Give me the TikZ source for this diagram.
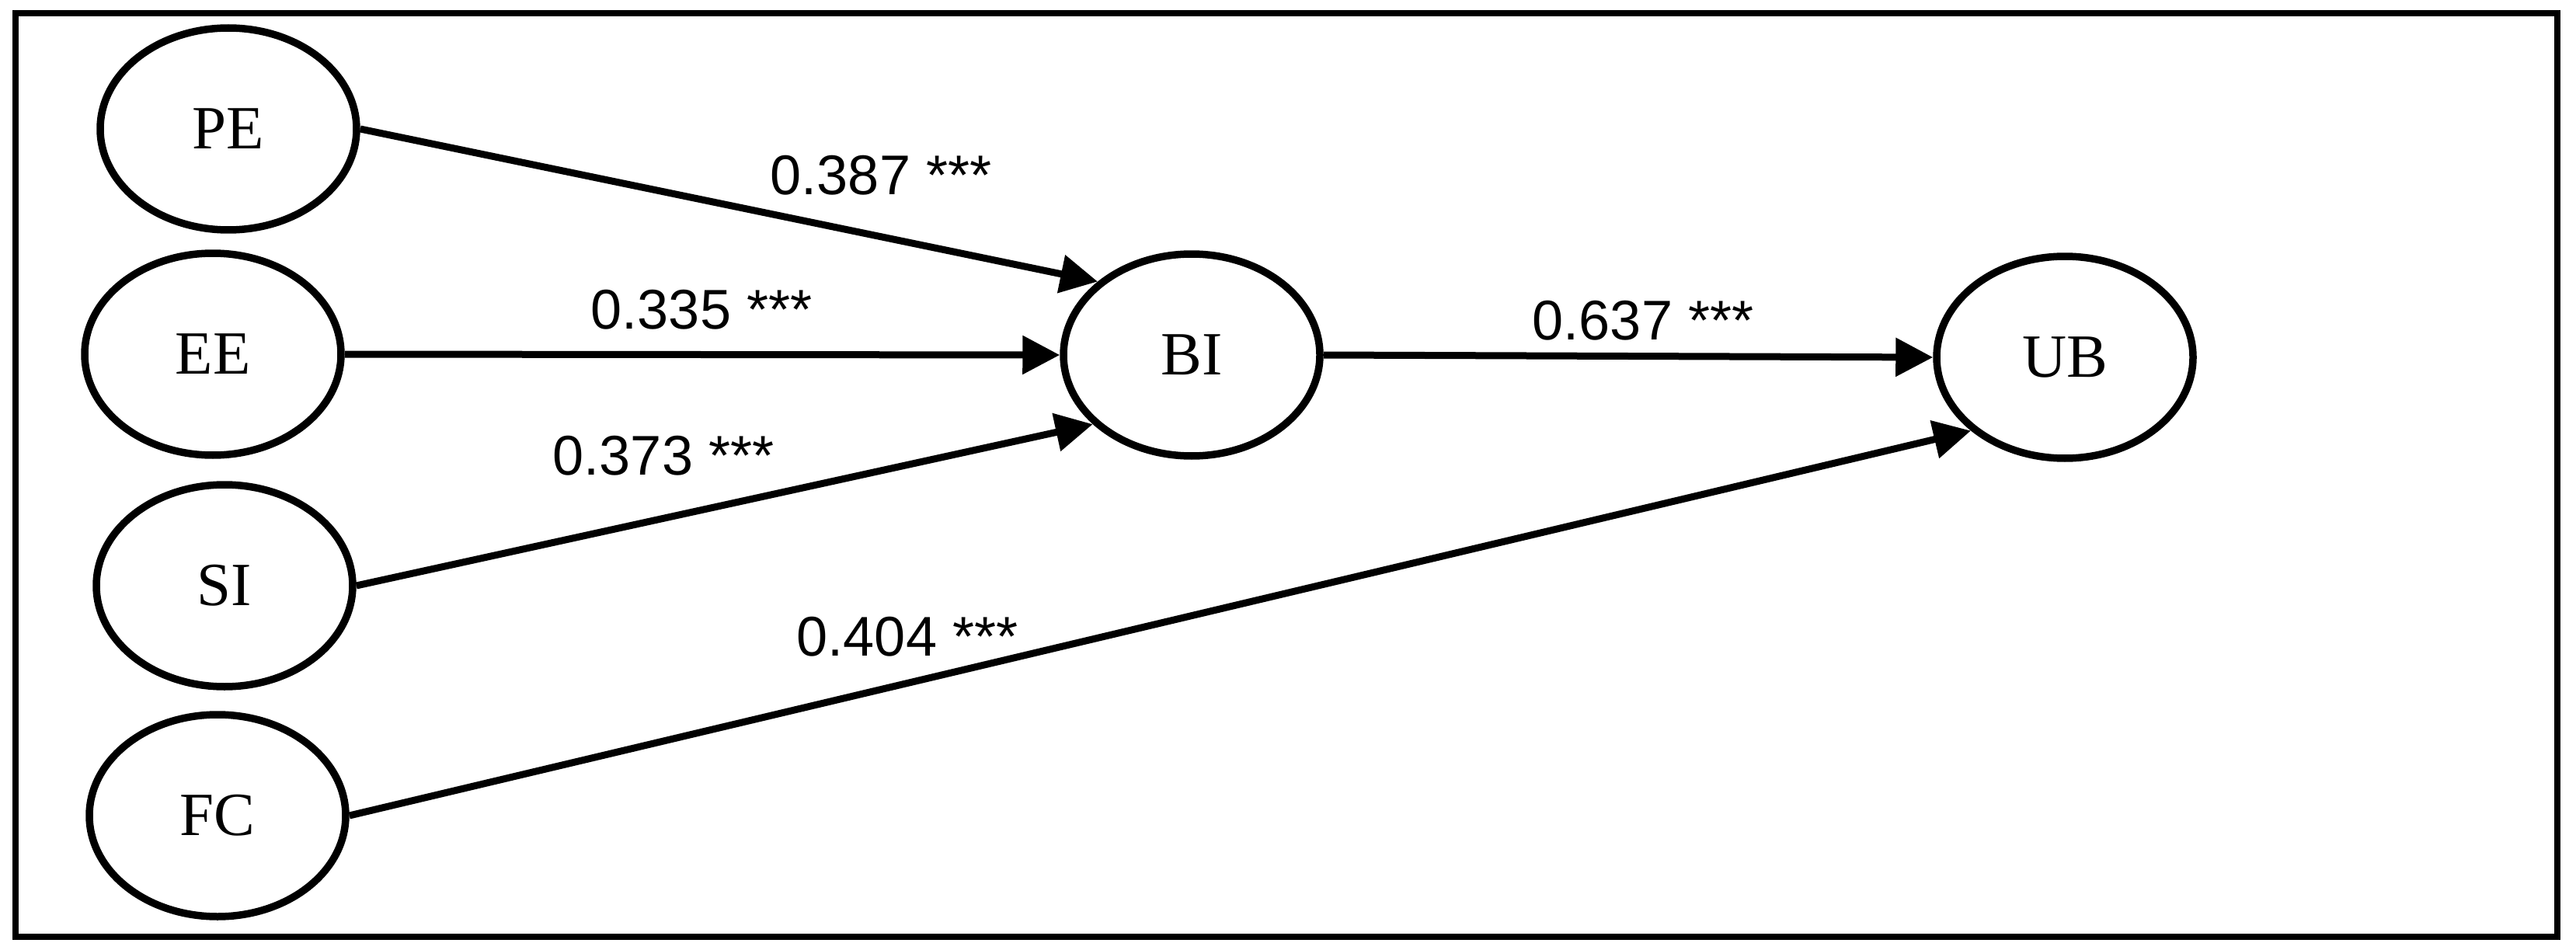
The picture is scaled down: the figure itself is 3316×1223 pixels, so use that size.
\documentclass[tikz,border=0pt]{standalone}
\usepackage{fontspec}
\setmainfont{Liberation Serif}
\newfontfamily\coeffont{Liberation Sans}
\usetikzlibrary{shapes.geometric,arrows.meta}

\tikzset{
	construct/.style={draw, ellipse, line width=0.95mm, inner sep=0pt,
		minimum width=33.0mm, minimum height=26.0mm,
		font=\fontsize{22.5}{26}\selectfont},
	coef/.style={inner sep=0pt, font=\coeffont\fontsize{20.5}{24}\selectfont},
	effect/.style={line width=0.9mm, -{Triangle[length=4.8mm, width=4.8mm]}},
}

\begin{document}
\begin{tikzpicture}[x=0.1mm, y=-0.1mm]

		\useasboundingbox (0, 0) rectangle (3316, 1223);
		\draw[line width=0.85mm] (20, 17) rectangle (3292, 1206);

		\node[construct] (PE) at (294, 166) {PE};
		\node[construct] (EE) at (274, 456) {EE};
		\node[construct] (SI) at (289, 754) {SI};
		\node[construct] (FC) at (280, 1050) {FC};
		\node[construct] (BI) at (1534, 457) {BI};
		\node[construct] (UB) at (2658, 460) {UB};

		\draw[effect] (PE.east) -- (BI.142);
		\draw[effect] (EE.east) -- (BI.west);
		\draw[effect] (SI.east) -- (BI.215);
		\draw[effect] (BI.east) -- (UB.west);
		\draw[effect] (FC.east) -- (UB.218);

		\node[coef] (cPE) at (1134, 226) {0.387 ***};
		\node[coef] (cEE) at (903, 399) {0.335 ***};
		\node[coef] (cSI) at (854, 587) {0.373 ***};
		\node[coef] (cBI) at (2115, 413) {0.637 ***};
		\node[coef] (cFC) at (1168, 820) {0.404 ***};

	\end{tikzpicture}
\end{document}
